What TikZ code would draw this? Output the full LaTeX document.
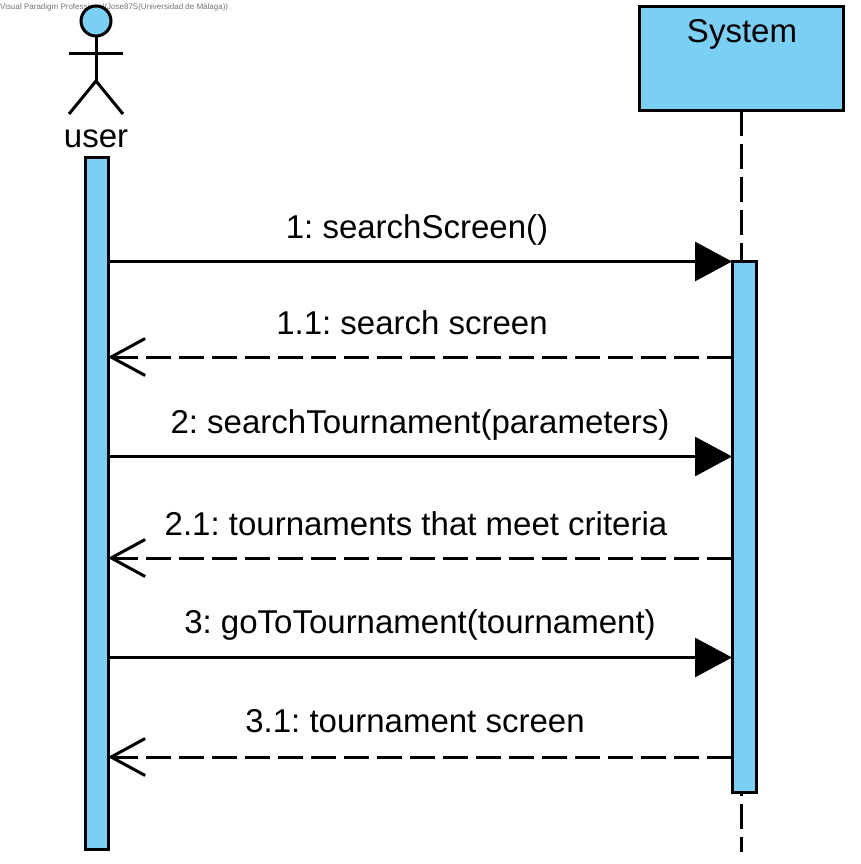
\documentclass[tikz,border=0pt]{standalone}
\usepackage{fontspec}
\setmainfont{Liberation Sans}
\usetikzlibrary{arrows.meta}
\definecolor{vpblue}{HTML}{7ACFF5}
\frenchspacing
\tikzset{
  x=1pt,y=-1pt,
  ln/.style={line width=3pt,black},
  boxed/.style={draw=black,line width=3pt,fill=vpblue,rectangle,inner sep=0pt,outer sep=0pt},
  lbl/.style={font=\fontsize{33}{36}\selectfont,inner sep=0pt,anchor=base},
  call/.style={ln,-{Triangle[length=37pt,width=39pt]}},
  reply/.style={ln,dash pattern=on 25pt off 8pt,-{Straight Barb[length=34pt,width=37pt,line width=3pt]}},
  life/.style={ln,dash pattern=on 25pt off 8pt}
}
\begin{document}
\begin{tikzpicture}
\useasboundingbox (0,0) rectangle (861,864);
\node[anchor=base west,inner sep=0pt,text=black!55,font=\fontsize{8}{9}\selectfont] (wm) at (0,10) {Visual Paradigm Professional(Jose87S(Universidad de Málaga))};
% actor
\node[boxed,circle,minimum size=30pt] (head) at (96,21) {};
\coordinate (hip) at (96,81);
\coordinate (armL) at (69,54);
\coordinate (armR) at (123,54);
\coordinate (legL) at (69,114);
\coordinate (legR) at (123,114);
\draw[ln] (head.south) -- (hip);
\draw[ln] (armL) -- (armR);
\draw[ln] (legL) -- (hip) -- (legR);
\node[lbl] (user) at (96,147) {user};
% system head and lifeline
\node[boxed,minimum width=204pt,minimum height=104pt] (sys) at (741,58.5) {};
\node[lbl] (systxt) at (742,43) {System};
\coordinate (lifeend) at (741,852);
\draw[life] (sys.south) -- (lifeend);
% activations
\node[boxed,minimum width=23pt,minimum height=692pt] (ua) at (96.5,503) {};
\node[boxed,minimum width=24pt,minimum height=530.5pt] (sa) at (744,526.75) {};
% anchors
\foreach \n/\y in {1/261.5,2/357,3/456.5,4/558,5/657.5,6/757}{
  \coordinate (u\n) at (108,\y);
  \coordinate (s\n) at (732,\y);
}
\draw[call] (u1) -- (s1);
\draw[reply] (s2) -- (u2);
\draw[call] (u3) -- (s3);
\draw[reply] (s4) -- (u4);
\draw[call] (u5) -- (s5);
\draw[reply] (s6) -- (u6);
\node[lbl] (m1) at (417,238) {1: searchScreen()};
\node[lbl] (m2) at (412,334) {1.1: search screen};
\node[lbl] (m3) at (420,433) {2: searchTournament(parameters)};
\node[lbl] (m4) at (416,535) {2.1: tournaments that meet criteria};
\node[lbl] (m5) at (420,633) {3: goToTournament(tournament)};
\node[lbl] (m6) at (415,732) {3.1: tournament screen};
\end{tikzpicture}
\end{document}
